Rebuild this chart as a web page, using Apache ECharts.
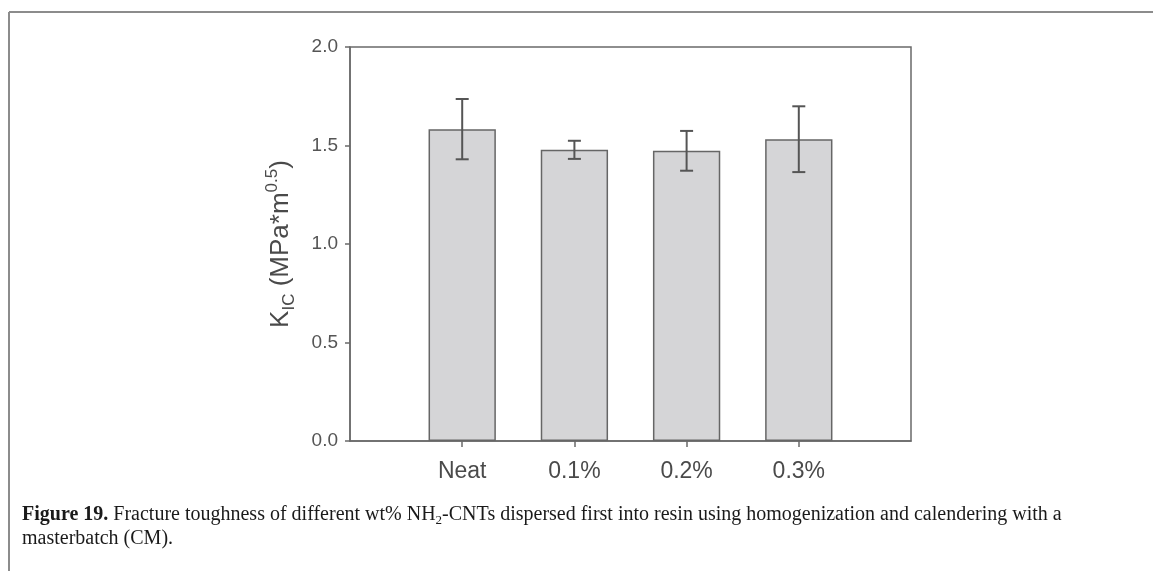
<!DOCTYPE html>
<html>
<head>
<meta charset="utf-8">
<title>Fracture toughness of NH2-CNT/epoxy</title>
<script src="https://cdn.jsdelivr.net/npm/echarts@6/dist/echarts.min.js"></script>
<style>
  html, body { margin: 0; padding: 0; background: #ffffff; }
  #chart { width: 1153px; height: 571px; }
</style>
</head>
<body>
<div id="chart"></div>
<script>
// CNT loading levels (x categories)
const categories = ['Neat', '0.1%', '0.2%', '0.3%'];
// Mean K_IC values, MPa*m^0.5
const kicMean = [1.583, 1.478, 1.473, 1.532];
// Standard deviation (half-length of the error bars)
const kicError = [0.153, 0.046, 0.101, 0.167];
// Y axis ticks
const yTicks = [0.0, 0.5, 1.0, 1.5, 2.0];

// Axis runs from 0 to 5 with the samples sitting at 1..4
const axisCategories = [''].concat(categories, ['']);

const barData = categories.map((c, i) => [c, kicMean[i]]);
const errData = categories.map((c, i) => [c, kicMean[i], kicError[i]]);

const chart = echarts.init(document.getElementById('chart'), null, { renderer: 'canvas' });

const axisGray = '#6a6a6a';
const sansFont = '"Liberation Sans", Arial, sans-serif';
const serifFont = '"Liberation Serif", "Times New Roman", serif';

chart.setOption({
  backgroundColor: '#ffffff',
  animation: false,
  grid: {
    left: 350, right: 242, top: 47, bottom: 130,
    show: true,
    borderColor: axisGray,
    borderWidth: 1.5,
    backgroundColor: 'transparent'
  },
  xAxis: {
    type: 'category',
    data: axisCategories,
    boundaryGap: false,
    axisLine: { show: true, lineStyle: { color: axisGray, width: 1.5 } },
    axisTick: {
      show: true,
      length: 6,
      interval: (idx, val) => val !== '',
      lineStyle: { color: axisGray, width: 1.5 }
    },
    axisLabel: {
      interval: (idx, val) => val !== '',
      margin: 19,
      color: '#4a4a4a',
      fontFamily: sansFont,
      fontSize: 23
    },
    splitLine: { show: false }
  },
  yAxis: {
    type: 'value',
    min: yTicks[0],
    max: yTicks[yTicks.length - 1],
    interval: yTicks[1] - yTicks[0],
    axisLine: { show: true, lineStyle: { color: axisGray, width: 1.5 } },
    axisTick: { show: true, length: 5, lineStyle: { color: axisGray, width: 1.5 } },
    axisLabel: {
      margin: 12,
      color: '#555555',
      fontFamily: sansFont,
      fontSize: 19,
      formatter: v => v.toFixed(1)
    },
    splitLine: { show: false },
    name: '{k|K}{sub|IC}{k| (MPa*m}{sup|0.5}{k|)}',
    nameLocation: 'middle',
    nameRotate: 90,
    nameGap: 52,
    nameTextStyle: {
      color: '#4a4a4a',
      fontFamily: sansFont,
      rich: {
        k: { fontSize: 26, lineHeight: 34, color: '#4a4a4a', fontFamily: sansFont },
        sub: { fontSize: 17, lineHeight: 15, verticalAlign: 'bottom', color: '#4a4a4a', fontFamily: sansFont },
        sup: { fontSize: 17, lineHeight: 15, verticalAlign: 'top', color: '#4a4a4a', fontFamily: sansFont }
      }
    }
  },
  series: [
    {
      type: 'bar',
      data: barData,
      barWidth: '60%',
      itemStyle: {
        color: '#d5d5d7',
        borderColor: '#666666',
        borderWidth: 1.5
      },
      z: 2
    },
    {
      type: 'custom',
      data: errData,
      z: 3,
      renderItem: (params, api) => {
        const xi = api.value(0);
        const mean = api.value(1);
        const err = api.value(2);
        const hi = api.coord([xi, mean + err]);
        const lo = api.coord([xi, mean - err]);
        const cap = 6.5;
        const style = { stroke: '#555555', lineWidth: 2 };
        return {
          type: 'group',
          children: [
            { type: 'line', shape: { x1: hi[0], y1: hi[1], x2: lo[0], y2: lo[1] }, style },
            { type: 'line', shape: { x1: hi[0] - cap, y1: hi[1], x2: hi[0] + cap, y2: hi[1] }, style },
            { type: 'line', shape: { x1: lo[0] - cap, y1: lo[1], x2: lo[0] + cap, y2: lo[1] }, style }
          ]
        };
      }
    }
  ],
  graphic: [
    // figure frame: top and left rules
    { type: 'line', shape: { x1: 9, y1: 12, x2: 1153, y2: 12 }, style: { stroke: '#8c8c8c', lineWidth: 2 } },
    { type: 'line', shape: { x1: 9, y1: 12, x2: 9, y2: 571 }, style: { stroke: '#8c8c8c', lineWidth: 2 } },
    // caption
    {
      type: 'text',
      left: 22,
      top: 503,
      style: {
        text: '{b|Figure 19.} Fracture toughness of different wt% NH{s|2}-CNTs dispersed first into resin using homogenization and calendering with a\nmasterbatch (CM).',
        fill: '#1a1a1a',
        font: '20px ' + serifFont,
        lineHeight: 24,
        rich: {
          b: { fontWeight: 'bold', fontSize: 20, fontFamily: serifFont, fill: '#1a1a1a', lineHeight: 24 },
          s: { fontSize: 13, fontFamily: serifFont, fill: '#1a1a1a', lineHeight: 14, verticalAlign: 'bottom' }
        }
      }
    }
  ]
});
</script>
</body>
</html>
